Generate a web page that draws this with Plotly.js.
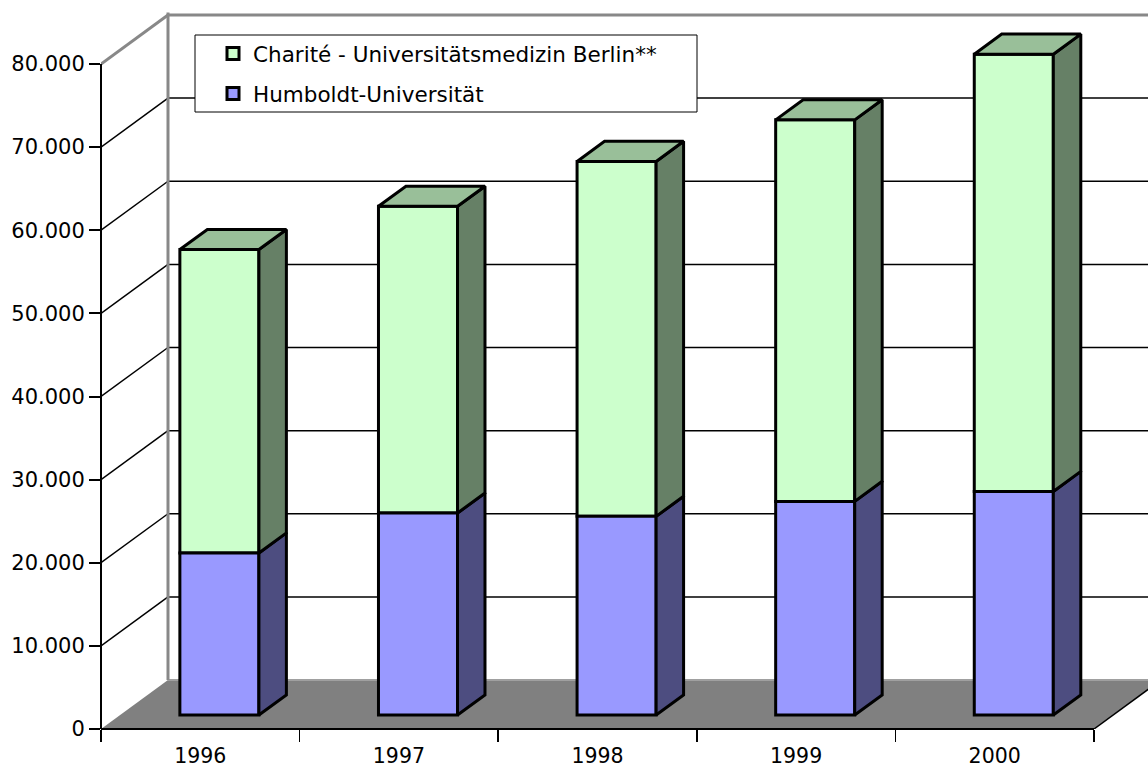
<!DOCTYPE html>
<html>
<head>
<meta charset="utf-8">
<script src="https://cdn.plot.ly/plotly-3.0.1.min.js"></script>
<style>html,body{margin:0;padding:0;background:#fff;}#chart{width:1148px;height:769px;}</style>
</head>
<body>
<div id="chart"></div>
<script>
// ---- data ----
const years = ['1996', '1997', '1998', '1999', '2000'];
const humboldt = [19500, 24300, 23900, 25700, 26900];
const charite = [36500, 36900, 42700, 45900, 52600];
const seriesNames = ['Charité - Universitätsmedizin Berlin**', 'Humboldt-Universität'];
const yTicks = [0, 10000, 20000, 30000, 40000, 50000, 60000, 70000, 80000];

// ---- 3D projection geometry (style) ----
const PX_PER_CAT = 198.6, PX_PER_UNIT = 8.3125 / 1000;
const DX = 67 / PX_PER_CAT;          // full depth shift in x (category units)
const DY = 49 / PX_PER_UNIT;         // full depth shift in y (value units)
const D0 = 0.285, D1 = 0.695;        // bar front/back depth fractions
const BW = 0.398;                    // bar width
const idx = years.map((_, i) => i);
const P = (x, v, d) => [x + d * DX, v + d * DY];

function sideFace(bases, vals) {
  const xs = [], ys = [];
  idx.forEach(i => {
    const xr = i + BW / 2;
    const b = bases[i], t = bases[i] + vals[i];
    [[xr, b, D0], [xr, t, D0], [xr, t, D1], [xr, b, D1], [xr, b, D0]].forEach(p => {
      const q = P(p[0], p[1], p[2]); xs.push(q[0]); ys.push(q[1]);
    });
    xs.push(null); ys.push(null);
  });
  return {xs, ys};
}
function topFace(tops) {
  const xs = [], ys = [];
  idx.forEach(i => {
    const xl = i - BW / 2, xr = i + BW / 2, t = tops[i];
    [[xl, t, D0], [xr, t, D0], [xr, t, D1], [xl, t, D1], [xl, t, D0]].forEach(p => {
      const q = P(p[0], p[1], p[2]); xs.push(q[0]); ys.push(q[1]);
    });
    xs.push(null); ys.push(null);
  });
  return {xs, ys};
}
const zeros = idx.map(() => 0);
const totals = idx.map(i => humboldt[i] + charite[i]);
const humSide = sideFace(zeros, humboldt);
const chaSide = sideFace(humboldt, charite);
const chaTop = topFace(totals);

const frontX = idx.map(i => P(i, 0, D0)[0]);
const frontBaseH = idx.map(i => P(i, 0, D0)[1]);
const frontBaseC = idx.map(i => P(i, humboldt[i], D0)[1]);

const outline = {color: '#000', width: 3};
const traces = [
  {type: 'bar', name: seriesNames[0], x: frontX, y: charite, base: frontBaseC, width: BW,
   marker: {color: '#CCFFCC', line: outline}, legendgroup: 'a', hoverinfo: 'skip'},
  {type: 'bar', name: seriesNames[1], x: frontX, y: humboldt, base: frontBaseH, width: BW,
   marker: {color: '#9999FF', line: outline}, legendgroup: 'b', hoverinfo: 'skip'},
  {type: 'scatter', mode: 'lines', x: humSide.xs, y: humSide.ys, fill: 'toself', fillcolor: '#4D4D80',
   line: {color: '#000', width: 3}, showlegend: false, hoverinfo: 'skip'},
  {type: 'scatter', mode: 'lines', x: chaSide.xs, y: chaSide.ys, fill: 'toself', fillcolor: '#668066',
   line: {color: '#000', width: 3}, showlegend: false, hoverinfo: 'skip'},
  {type: 'scatter', mode: 'lines', x: chaTop.xs, y: chaTop.ys, fill: 'toself', fillcolor: '#99BF99',
   line: {color: '#000', width: 3}, showlegend: false, hoverinfo: 'skip'}
];

// ---- walls, floor, gridlines ----
const xL = -0.5, xR = years.length - 0.5;
const shapes = [];
(function () {
  const a = P(xL, 0, 0), b = P(xR, 0, 0), c = P(xR, 0, 1), d = P(xL, 0, 1);
  shapes.push({type: 'path', xref: 'x', yref: 'y', layer: 'below',
    path: `M${a[0]},${a[1]} L${b[0]},${b[1]} L${c[0]},${c[1]} L${d[0]},${d[1]} Z`,
    fillcolor: '#808080', line: {width: 0}});
  shapes.push({type: 'line', xref: 'x', yref: 'y', layer: 'below', x0: b[0], y0: b[1], x1: c[0], y1: c[1],
    line: {color: '#000', width: 1.5}});
  shapes.push({type: 'line', xref: 'x', yref: 'y', layer: 'below', x0: d[0], y0: d[1], x1: c[0] + 1, y1: c[1],
    line: {color: '#A0A0A0', width: 2}});
})();
yTicks.forEach(v => {
  if (v === 0) return;
  const top = v === yTicks[yTicks.length - 1];
  const col = top ? '#888888' : '#000000';
  const w = top ? 3 : 1.5;
  const f = P(xL, v, 0), bk = P(xL, v, 1), br = P(xR + 1, v, 1);
  shapes.push({type: 'line', xref: 'x', yref: 'y', layer: 'below', x0: f[0], y0: f[1], x1: bk[0], y1: bk[1], line: {color: col, width: w}});
  shapes.push({type: 'line', xref: 'x', yref: 'y', layer: 'below', x0: bk[0], y0: bk[1], x1: br[0], y1: br[1], line: {color: col, width: w}});
});
(function () {
  const b = P(xL, 0, 1), t = P(xL, yTicks[yTicks.length - 1], 1);
  shapes.push({type: 'line', xref: 'x', yref: 'y', layer: 'below', x0: b[0], y0: b[1], x1: t[0], y1: t[1] + 300,
    line: {color: '#888888', width: 3}});
})();
shapes.push({type: 'line', xref: 'paper', yref: 'y', layer: 'above', x0: 0, x1: 0, y0: 0, y1: yTicks[yTicks.length - 1],
  line: {color: '#000', width: 2}});
shapes.push({type: 'line', xref: 'x', yref: 'paper', layer: 'above', x0: xL, x1: xR, y0: 0, y1: 0,
  line: {color: '#000', width: 2}});

const plotW = 1148 - 101, plotH = 769 - 10 - 40;
// legend frame
shapes.push({type: 'rect', xref: 'paper', yref: 'paper', layer: 'above',
  x0: (195 - 101) / plotW, x1: (697 - 101) / plotW, y0: (729 - 112) / plotH, y1: (729 - 35) / plotH,
  fillcolor: '#fff', line: {color: '#000', width: 1}});

const layout = {
  width: 1148, height: 769,
  margin: {l: 101, r: 0, t: 10, b: 40, pad: 0},
  paper_bgcolor: '#fff', plot_bgcolor: 'rgba(0,0,0,0)',
  font: {family: 'DejaVu Sans, Verdana, sans-serif', size: 21, color: '#000'},
  separators: ',.',
  barmode: 'overlay',
  showlegend: true,
  xaxis: {
    type: 'linear', range: [xL, xL + plotW / PX_PER_CAT], fixedrange: true,
    tickvals: idx, ticktext: years, ticks: 'outside', ticklen: 8, tickcolor: 'rgba(0,0,0,0)',
    tickfont: {size: 20.5},
    showgrid: false, zeroline: false, showline: false,
    minor: {tickvals: idx.map(i => i - 0.5).concat([xR]), ticks: 'outside', ticklen: 12, tickwidth: 1.5, tickcolor: '#000', showgrid: false}
  },
  yaxis: {
    range: [0, plotH / PX_PER_UNIT], fixedrange: true,
    tickvals: yTicks, tickformat: ',d', ticks: 'outside', ticklen: 11, tickwidth: 2, tickcolor: '#000',
    showgrid: false, zeroline: false, showline: false
  },
  legend: {
    x: (195 - 101) / plotW, xanchor: 'left', y: (729 - 33) / plotH, yanchor: 'top',
    bgcolor: 'rgba(0,0,0,0)', borderwidth: 0,
    traceorder: 'grouped', tracegroupgap: 9, indentation: 18,
    font: {family: 'DejaVu Sans, Verdana, sans-serif', size: 21.5, color: '#000'}
  },
  shapes: shapes
};
Plotly.newPlot('chart', traces, layout, {displayModeBar: false, staticPlot: true});
</script>
</body>
</html>
